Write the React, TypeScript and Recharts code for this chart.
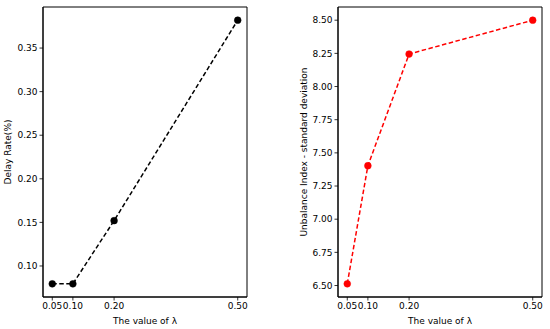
import React from "react";
import { LineChart, Line, XAxis, YAxis, ReferenceArea } from "recharts";

const lambdaValues = [0.05, 0.1, 0.2, 0.5];
const delayRate = [0.0795, 0.0795, 0.152, 0.382];
const unbalanceIndex = [6.513, 7.403, 8.245, 8.5];
const xTicks = [0.05, 0.1, 0.2, 0.5];
const leftYTicks = [0.1, 0.15, 0.2, 0.25, 0.3, 0.35];
const rightYTicks = [6.5, 6.75, 7.0, 7.25, 7.5, 7.75, 8.0, 8.25, 8.5];

const xDomain: [number, number] = [0.0275, 0.5225];
const leftDomain: [number, number] = [0.0644, 0.3971];
const rightDomain: [number, number] = [6.4135, 8.5995];

const leftData = lambdaValues.map((l, i) => ({ lambda: l, value: delayRate[i] }));
const rightData = lambdaValues.map((l, i) => ({ lambda: l, value: unbalanceIndex[i] }));

const font = { fontFamily: "DejaVu Sans", fontSize: 9, fill: "#000" };

function Panel(props: {
  data: { lambda: number; value: number }[];
  yDomain: [number, number];
  yTicks: number[];
  color: string;
  yLabel: string;
  yAxisWidth: number;
  rightMargin: number;
  yLabelOffset: number;
}) {
  const { data, yDomain, yTicks, color, yLabel, yAxisWidth, rightMargin, yLabelOffset } = props;
  return (
    <LineChart
      width={275}
      height={329}
      data={data}
      margin={{ top: 7, right: rightMargin, bottom: 0, left: 0 }}
    >
      <XAxis
        dataKey="lambda"
        type="number"
        domain={xDomain}
        allowDataOverflow
        ticks={xTicks}
        tickFormatter={(v: number) => v.toFixed(2)}
        height={32}
        tickSize={3.5}
        tickMargin={2}
        tick={font}
        stroke="#000"
        axisLine={{ stroke: "#000", strokeWidth: 1 }}
        tickLine={{ stroke: "#000", strokeWidth: 0.8 }}
        interval={0}
        label={{
          value: "The value of λ",
          position: "insideBottom",
          offset: 5.5,
          style: { fontFamily: "DejaVu Sans", fontSize: 9, fill: "#000" },
        }}
      />
      <YAxis
        type="number"
        domain={yDomain}
        allowDataOverflow
        ticks={yTicks}
        tickFormatter={(v: number) => v.toFixed(2)}
        width={yAxisWidth}
        tickSize={3.5}
        tickMargin={2}
        tick={font}
        stroke="#000"
        axisLine={{ stroke: "#000", strokeWidth: 1 }}
        tickLine={{ stroke: "#000", strokeWidth: 0.8 }}
        interval={0}
        label={{
          value: yLabel,
          angle: -90,
          position: "insideLeft",
          offset: yLabelOffset,
          style: { fontFamily: "DejaVu Sans", fontSize: 9, fill: "#000", textAnchor: "middle" },
        }}
      />
      <ReferenceArea
        x1={xDomain[0]}
        x2={xDomain[1]}
        y1={yDomain[0]}
        y2={yDomain[1]}
        fill="none"
        fillOpacity={0}
        stroke="#000"
        strokeWidth={1}
        ifOverflow="visible"
      />
      <Line
        type="linear"
        dataKey="value"
        stroke={color}
        strokeWidth={1.5}
        strokeDasharray="4.5 2.5"
        dot={{ r: 3.4, fill: color, stroke: color, strokeWidth: 0.5, strokeDasharray: "0" }}
        activeDot={false}
        isAnimationActive={false}
      />
    </LineChart>
  );
}

export default function App() {
  return (
    <div style={{ position: "absolute", left: 0, top: 0, width: 550, height: 329, background: "#fff" }}>
      <div style={{ position: "absolute", left: 0, top: 0 }}>
        <Panel
          data={leftData}
          yDomain={leftDomain}
          yTicks={leftYTicks}
          color="#000000"
          yLabel="Delay Rate(%)"
          yAxisWidth={43}
          rightMargin={28}
          yLabelOffset={8}
        />
      </div>
      <div style={{ position: "absolute", left: 275, top: 0 }}>
        <Panel
          data={rightData}
          yDomain={rightDomain}
          yTicks={rightYTicks}
          color="#ff0000"
          yLabel="Unbalance Index - standard deviation"
          yAxisWidth={63}
          rightMargin={8}
          yLabelOffset={29}
        />
      </div>
    </div>
  );
}
